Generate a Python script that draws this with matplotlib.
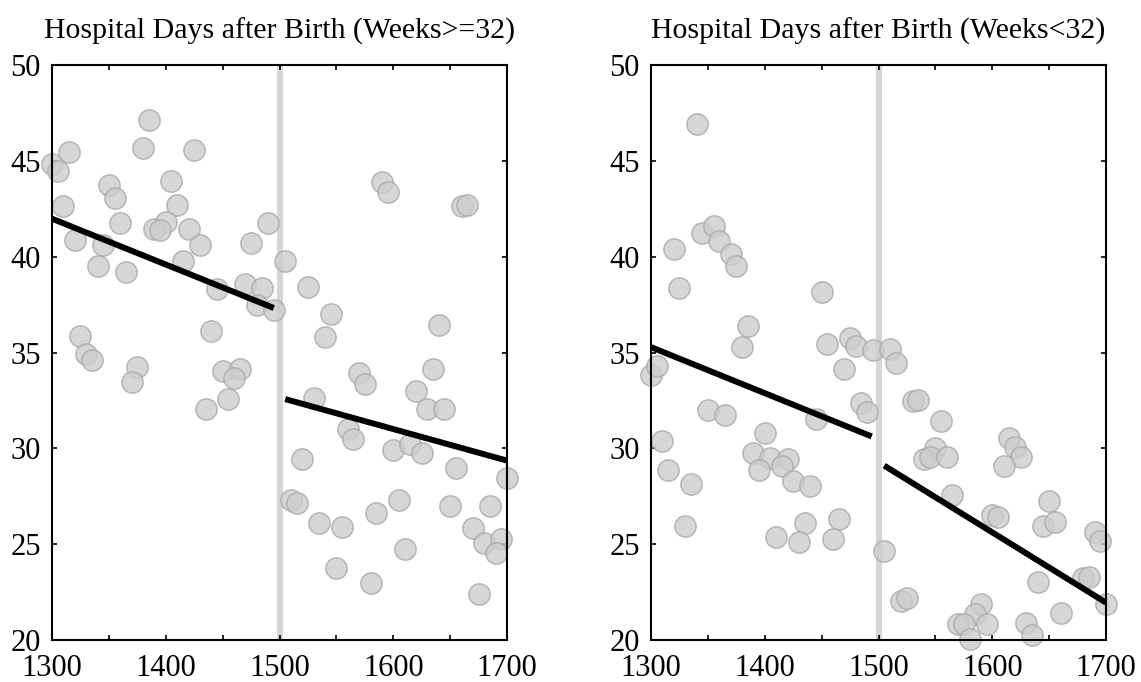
import matplotlib
matplotlib.use("Agg")
import matplotlib.pyplot as plt
import numpy as np

plt.rcParams['font.family'] = ['Liberation Serif', 'DejaVu Serif']

# ---- data: weeks >= 32 ----
x_ge32 = [1300, 1305, 1315, 1310, 1320, 1350, 1355, 1345, 1360, 1340, 1365, 1385, 1380, 1425,
          1405, 1410, 1400, 1390, 1395, 1420, 1430, 1415, 1440, 1445, 1470, 1485, 1480, 1495,
          1490, 1475, 1505, 1325, 1330, 1335, 1375, 1370, 1450, 1465, 1460, 1455, 1435, 1590,
          1595, 1660, 1665, 1525, 1545, 1540, 1640, 1570, 1575, 1635, 1620, 1630, 1645, 1530,
          1560, 1565, 1600, 1615, 1625, 1655, 1700, 1520, 1510, 1515, 1605, 1585, 1650, 1685,
          1535, 1555, 1670, 1680, 1695, 1690, 1610, 1550, 1580, 1675]
y_ge32 = [44.86, 44.49, 45.48, 42.63, 40.87, 43.76, 43.07, 40.61, 41.78, 39.49, 39.22, 47.15, 45.68, 45.57,
          43.95, 42.72, 41.81, 41.43, 41.39, 41.45, 40.63, 39.79, 36.14, 38.33, 38.59, 38.38, 37.46, 37.20,
          41.75, 40.70, 39.75, 35.84, 34.90, 34.59, 34.22, 33.47, 34.01, 34.13, 33.65, 32.60, 32.03, 43.92,
          43.38, 42.65, 42.70, 38.43, 37.02, 35.79, 36.41, 33.93, 33.35, 34.14, 32.99, 32.03, 32.03, 32.62,
          31.00, 30.48, 29.89, 30.23, 29.77, 28.96, 28.46, 29.44, 27.29, 27.17, 27.33, 26.63, 27.01, 27.00,
          26.09, 25.92, 25.83, 25.05, 25.26, 24.53, 24.74, 23.76, 22.98, 22.40]
fit_ge32_left_x = [1300, 1495]
fit_ge32_left_y = [41.98, 37.32]
fit_ge32_right_x = [1505, 1700]
fit_ge32_right_y = [32.57, 29.36]

# ---- data: weeks < 32 ----
x_lt32 = [1340, 1345, 1355, 1360, 1370, 1375, 1320, 1325, 1450, 1385, 1380, 1455, 1475, 1480,
          1495, 1510, 1300, 1305, 1470, 1485, 1490, 1350, 1365, 1445, 1400, 1310, 1390, 1405,
          1420, 1415, 1395, 1315, 1425, 1440, 1335, 1330, 1435, 1465, 1410, 1430, 1460, 1505,
          1515, 1530, 1535, 1555, 1550, 1540, 1545, 1560, 1615, 1620, 1625, 1610, 1565, 1650,
          1600, 1605, 1645, 1655, 1690, 1695, 1640, 1680, 1685, 1700, 1660, 1520, 1525, 1590,
          1585, 1595, 1570, 1575, 1580, 1630, 1635]
y_lt32 = [46.94, 41.22, 41.60, 40.80, 40.12, 39.53, 40.42, 38.35, 38.14, 36.38, 35.28, 35.42, 35.77, 35.33,
          35.14, 35.20, 33.82, 34.32, 34.14, 32.39, 31.92, 32.00, 31.73, 31.52, 30.79, 30.36, 29.78, 29.49,
          29.45, 29.09, 28.89, 28.88, 28.31, 28.04, 28.15, 25.94, 26.09, 26.30, 25.36, 25.10, 25.27, 24.63,
          34.45, 32.48, 32.53, 31.44, 30.03, 29.44, 29.54, 29.57, 30.56, 30.09, 29.57, 29.10, 27.54, 27.24,
          26.54, 26.41, 25.95, 26.14, 25.62, 25.17, 23.01, 23.22, 23.29, 21.88, 21.43, 22.04, 22.18, 21.88,
          21.36, 20.84, 20.85, 20.84, 20.04, 20.87, 20.25]
fit_lt32_left_x = [1300, 1494]
fit_lt32_left_y = [35.28, 30.62]
fit_lt32_right_x = [1505, 1700]
fit_lt32_right_y = [29.10, 21.95]

cutoff = 1500
titles = ["Hospital Days after Birth (Weeks>=32)", "Hospital Days after Birth (Weeks<32)"]
xlim = (1300, 1700)
ylim = (20, 50)
xmajor = [1300, 1400, 1500, 1600, 1700]
xminor = [1350, 1450, 1550, 1650]
yticks = [20, 25, 30, 35, 40, 45, 50]

fig = plt.figure(figsize=(11.41, 6.82), dpi=100)
axes = [fig.add_axes([52/1141, 1-640/682, 455/1141, 575/682]),
        fig.add_axes([651/1141, 1-640/682, 455/1141, 575/682])]

panels = [(x_ge32, y_ge32, fit_ge32_left_x, fit_ge32_left_y, fit_ge32_right_x, fit_ge32_right_y),
          (x_lt32, y_lt32, fit_lt32_left_x, fit_lt32_left_y, fit_lt32_right_x, fit_lt32_right_y)]

for ax, (xs, ys, flx, fly, frx, fry), title in zip(axes, panels, titles):
    ax.axvline(cutoff, color='#d6d6d6', lw=4.3, zorder=1)
    ax.scatter(xs, ys, s=235, facecolor='#cccccc', edgecolor='#aaaaaa', linewidths=1.1,
               alpha=0.8, zorder=2, clip_on=False)
    ax.plot(flx, fly, color='black', lw=4.3, solid_capstyle='butt', zorder=3)
    ax.plot(frx, fry, color='black', lw=4.3, solid_capstyle='butt', zorder=3)
    ax.set_xlim(*xlim)
    ax.set_ylim(*ylim)
    ax.set_xticks(xmajor)
    ax.set_xticks(xminor, minor=True)
    ax.set_yticks(yticks)
    ax.tick_params(which='both', direction='in', top=True, right=True, length=3.8, width=1.2,
                   labelsize=22)
    ax.tick_params(axis='x', pad=10)
    ax.tick_params(axis='y', pad=8)
    for sp in ax.spines.values():
        sp.set_linewidth(1.5)
    ax.set_title(title, fontsize=21.5, pad=19)

fig.savefig("out.png", dpi=100)
